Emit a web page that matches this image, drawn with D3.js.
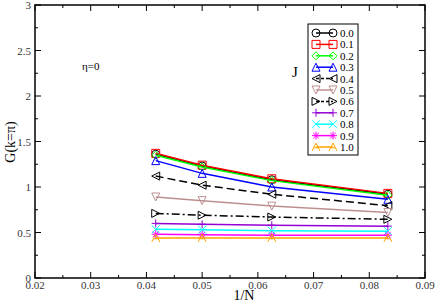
<!DOCTYPE html>
<meta charset="utf-8">
<script src="https://d3js.org/d3.v7.min.js"></script>
<style>
  body { margin: 0; background: #fff; }
</style>
<div id="chart"></div>
<script>
  // 1/N values (N = 24, 20, 16, 12)
  var invN = [1/24, 1/20, 1/16, 1/12];
  var etas = ["0.0", "0.1", "0.2", "0.3", "0.4", "0.5", "0.6", "0.7", "0.8", "0.9", "1.0"];
  var g00 = [1.36, 1.23, 1.08, 0.92];
  var g01 = [1.37, 1.24, 1.09, 0.93];
  var g02 = [1.35, 1.22, 1.07, 0.91];
  var g03 = [1.29, 1.15, 1.00, 0.865];
  var g04 = [1.12, 1.02, 0.92, 0.795];
  var g05 = [0.89, 0.85, 0.79, 0.72];
  var g06 = [0.71, 0.69, 0.67, 0.645];
  var g07 = [0.60, 0.59, 0.58, 0.57];
  var g08 = [0.535, 0.53, 0.52, 0.515];
  var g09 = [0.48, 0.475, 0.47, 0.47];
  var g10 = [0.44, 0.44, 0.44, 0.44];
  var values = [g00, g01, g02, g03, g04, g05, g06, g07, g08, g09, g10];

  var xTicks = [0.02, 0.03, 0.04, 0.05, 0.06, 0.07, 0.08, 0.09];
  var yTicks = [0, 0.5, 1, 1.5, 2, 2.5, 3];

  var colors = ["#000000", "#ff0000", "#00ff00", "#0000ff", "#000000", "#bc8f8f",
                "#000000", "#9400d3", "#00ffff", "#ff00ff", "#ffa500"];
  var dashes = [null, null, null, null, "8,4", null, "8,3,2,3", null, null, null, null];
  var symbols = ["circle", "square", "diamond", "tup", "tleft", "tdown", "tright", "plus", "cross", "star", "char"];

  var W = 436, H = 306;
  var margin = {top: 5, right: 11, bottom: 28, left: 35};
  var width = W - margin.left - margin.right,
      height = H - margin.top - margin.bottom;
  var serif = "'Liberation Serif', 'Times New Roman', Times, 'DejaVu Serif', serif";

  var svg = d3.select("#chart").append("svg")
      .attr("width", W).attr("height", H)
      .attr("font-family", serif).style("font-family", serif);
  var g = svg.append("g")
      .attr("transform", "translate(" + margin.left + "," + margin.top + ")");

  var x = d3.scaleLinear().domain([0.02, 0.09]).range([0, width]);
  var y = d3.scaleLinear().domain([0, 3]).range([height, 0]);

  // minor/major ticks, pointing inward on all four sides
  var xMinor = d3.range(0.025, 0.09, 0.01);
  var yMinor = d3.range(0.25, 3, 0.5);
  function axisTicks(sel) {
    xTicks.forEach(function(t) {
      sel.append("line").attr("x1", x(t)).attr("x2", x(t)).attr("y1", height).attr("y2", height - 6);
      sel.append("line").attr("x1", x(t)).attr("x2", x(t)).attr("y1", 0).attr("y2", 6);
    });
    xMinor.forEach(function(t) {
      sel.append("line").attr("x1", x(t)).attr("x2", x(t)).attr("y1", height).attr("y2", height - 3);
      sel.append("line").attr("x1", x(t)).attr("x2", x(t)).attr("y1", 0).attr("y2", 3);
    });
    yTicks.forEach(function(t) {
      sel.append("line").attr("x1", 0).attr("x2", 6).attr("y1", y(t)).attr("y2", y(t));
      sel.append("line").attr("x1", width).attr("x2", width - 6).attr("y1", y(t)).attr("y2", y(t));
    });
    yMinor.forEach(function(t) {
      sel.append("line").attr("x1", 0).attr("x2", 3).attr("y1", y(t)).attr("y2", y(t));
      sel.append("line").attr("x1", width).attr("x2", width - 3).attr("y1", y(t)).attr("y2", y(t));
    });
  }
  var tg = g.append("g").attr("stroke", "#000").attr("stroke-width", 1);
  axisTicks(tg);

  g.append("rect").attr("width", width).attr("height", height)
    .attr("fill", "none").attr("stroke", "#000").attr("stroke-width", 1.5);

  g.selectAll(".xl").data(xTicks).enter().append("text")
    .attr("x", function(d) { return x(d); }).attr("y", height + 11)
    .attr("text-anchor", "middle").attr("font-size", 11).attr("fill", "#333")
    .text(function(d) { return d.toFixed(2); });
  g.selectAll(".yl").data(yTicks).enter().append("text")
    .attr("x", -4).attr("y", function(d) { return y(d) + 4; })
    .attr("text-anchor", "end").attr("font-size", 11).attr("fill", "#333")
    .text(function(d) { return d; });

  svg.append("text").attr("x", margin.left + x(0.0575)).attr("y", 300)
    .attr("text-anchor", "middle").attr("font-size", 14).text("1/N");
  svg.append("text").attr("transform", "translate(15,142) rotate(-90)")
    .attr("text-anchor", "middle").attr("font-size", 14).text("G(k=π)");

  svg.append("text").attr("x", 82).attr("y", 70).attr("font-size", 11).text("η=0");
  svg.append("text").attr("x", 292).attr("y", 77).attr("font-size", 15).text("J");

  function symbolPath(s, r) {
    switch (s) {
      case "circle": return d3.symbol(d3.symbolCircle, Math.PI * r * r)();
      case "square": return "M" + (-r) + "," + (-r) + "H" + r + "V" + r + "H" + (-r) + "Z";
      case "diamond": return "M0," + (-r) + "L" + r + ",0L0," + r + "L" + (-r) + ",0Z";
      case "tup": return "M0," + (-r) + "L" + r + "," + r + "L" + (-r) + "," + r + "Z";
      case "tdown": return "M0," + r + "L" + r + "," + (-r) + "L" + (-r) + "," + (-r) + "Z";
      case "tleft": return "M" + (-r) + ",0L" + r + "," + (-r) + "L" + r + "," + r + "Z";
      case "tright": return "M" + r + ",0L" + (-r) + "," + (-r) + "L" + (-r) + "," + r + "Z";
      case "plus": return "M" + (-r) + ",0H" + r + "M0," + (-r) + "V" + r;
      case "cross": return "M" + (-r) + "," + (-r) + "L" + r + "," + r + "M" + r + "," + (-r) + "L" + (-r) + "," + r;
      case "star": return "M" + (-r) + ",0H" + r + "M0," + (-r) + "V" + r +
        "M" + (-r * 0.7) + "," + (-r * 0.7) + "L" + (r * 0.7) + "," + (r * 0.7) +
        "M" + (r * 0.7) + "," + (-r * 0.7) + "L" + (-r * 0.7) + "," + (r * 0.7);
      case "char": return "M" + (-r) + "," + r + "L0," + (-r) + "L" + r + "," + r +
        "M" + (-r * 0.5) + "," + (r * 0.2) + "H" + (r * 0.5);
    }
  }

  var line = d3.line()
    .x(function(d, i) { return x(invN[i]); })
    .y(function(d) { return y(d); });

  etas.forEach(function(e, k) {
    var sg = g.append("g");
    sg.append("path").attr("d", line(values[k]))
      .attr("fill", "none").attr("stroke", colors[k]).attr("stroke-width", 1.5)
      .attr("stroke-dasharray", dashes[k]);
    sg.selectAll("path.m").data(values[k]).enter().append("path")
      .attr("class", "m")
      .attr("transform", function(d, i) { return "translate(" + x(invN[i]) + "," + y(d) + ")"; })
      .attr("d", symbolPath(symbols[k], 4))
      .attr("fill", "none").attr("stroke", colors[k]).attr("stroke-width", 1);
  });

  // legend
  var lg = svg.append("g").attr("transform", "translate(308,24)");
  lg.append("rect").attr("width", 50).attr("height", 131)
    .attr("fill", "#fff").attr("stroke", "#000").attr("stroke-width", 1);
  etas.forEach(function(e, k) {
    var yy = 9 + k * 11.4;
    var it = lg.append("g").attr("transform", "translate(0," + yy + ")");
    it.append("line").attr("x1", 8).attr("x2", 25).attr("y1", 0).attr("y2", 0)
      .attr("stroke", colors[k]).attr("stroke-width", 1.5)
      .attr("stroke-dasharray", dashes[k] ? "3,2" : null);
    [8, 25].forEach(function(px) {
      it.append("path").attr("transform", "translate(" + px + ",0)")
        .attr("d", symbolPath(symbols[k], 4))
        .attr("fill", "none").attr("stroke", colors[k]).attr("stroke-width", 1);
    });
    it.append("text").attr("x", 32).attr("y", 4).attr("font-size", 11).text(e);
  });
</script>
